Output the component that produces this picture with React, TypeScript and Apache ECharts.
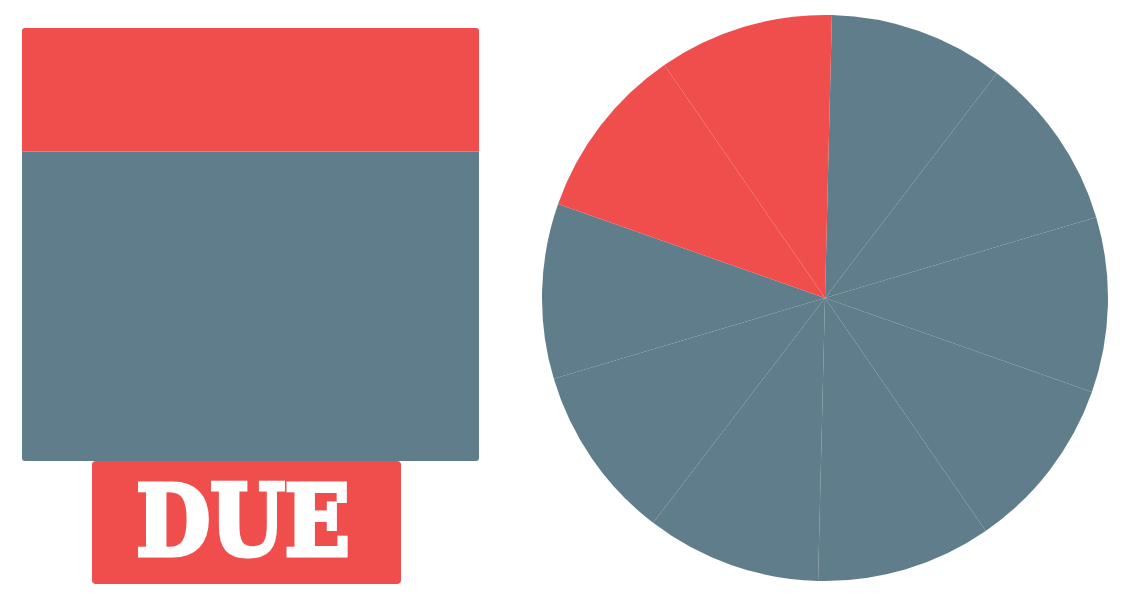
import React, { useEffect, useRef } from "react";
import * as echarts from "echarts";

const RED = "#f04e4d";
const GREY = "#607d8b";

// Left stacked block: share of the total that is due vs. not due
const blockCategories = ["Total"];
const notDueValues = [71.5];
const dueValues = [28.5];

// Right pie: ten equal parts, the last two are due
const pieNames = ["1", "2", "3", "4", "5", "6", "7", "8", "9", "10"];
const pieValues = [1, 1, 1, 1, 1, 1, 1, 1, 1, 1];
const pieDue = [false, false, false, false, false, false, false, false, true, true];

const labelText = "DUE";

export default function App() {
  const ref = useRef<HTMLDivElement>(null);
  useEffect(() => {
    document.body.style.margin = "0";
    const chart = echarts.init(ref.current!, undefined, { renderer: "svg" });
    chart.setOption({
      animation: false,
      backgroundColor: "#ffffff",
      grid: { left: 22, top: 28, width: 457, height: 433, containLabel: false },
      xAxis: { type: "category", data: blockCategories, show: false },
      yAxis: { type: "value", min: 0, max: 100, show: false },
      series: [
        {
          type: "bar",
          stack: "total",
          data: notDueValues,
          barWidth: "100%",
          itemStyle: { color: GREY, borderRadius: [0, 0, 3, 3] },
        },
        {
          type: "bar",
          stack: "total",
          data: dueValues,
          barWidth: "100%",
          itemStyle: { color: RED, borderRadius: [3, 3, 0, 0] },
        },
        {
          type: "pie",
          center: [825, 298],
          radius: [0, 283],
          startAngle: 88.6,
          clockwise: true,
          label: { show: false },
          labelLine: { show: false },
          emphasis: { disabled: true },
          itemStyle: { borderWidth: 0 },
          data: pieNames.map((n, i) => ({
            name: n,
            value: pieValues[i],
            itemStyle: { color: pieDue[i] ? RED : GREY },
          })),
        },
      ],
      graphic: [
        {
          type: "rect",
          shape: { x: 92, y: 461, width: 309, height: 123, r: 4 },
          style: { fill: RED },
        },
        {
          type: "text",
          x: 243,
          y: 521,
          scaleX: 0.87,
          style: {
            text: labelText,
            fill: "#ffffff",
            stroke: "#ffffff",
            lineWidth: 5,
            font: 'bold 98px "DejaVu Serif"',
            textAlign: "center",
            textVerticalAlign: "middle",
          },
        },
      ],
    });
    return () => chart.dispose();
  }, []);
  return (
    <div
      ref={ref}
      style={{ position: "absolute", left: 0, top: 0, width: 1131, height: 600 }}
    />
  );
}
